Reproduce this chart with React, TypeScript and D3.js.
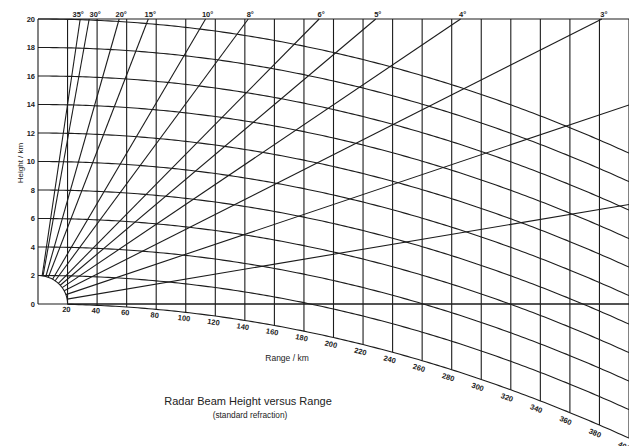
import React from 'react';
import * as d3 from 'd3';

// beam elevation angles (deg), the ones that reach the top get a label
const beamAngles = [35, 30, 20, 15, 10, 8, 6, 5, 4, 3, 2, 1, 0];
const labelledAngles = [35, 30, 20, 15, 10, 8, 6, 5, 4, 3];
const heightTicks = [0, 2, 4, 6, 8, 10, 12, 14, 16, 18, 20];
const rangeTicks = [20, 40, 60, 80, 100, 120, 140, 160, 180, 200, 220, 240, 260, 280, 300, 320, 340, 360, 380, 400];
const effRadius = 8500; // 4/3 earth radius, km
const blindRange = 20; // km, inner ellipse
const blindHeight = 2; // km

const W = 629;
const H = 446;
const ink = '#1c1c1c';

const x = d3.scaleLinear().domain([0, 400]).range([38, 629]);
const y = d3.scaleLinear().domain([0, 20]).range([304, 19]);

const drop = (d: number) => (d * d) / (2 * effRadius);

const line = d3
  .line<[number, number]>()
  .x((p) => x(p[0]))
  .y((p) => y(p[1]));

const App = () => {
  // curves of constant height above the (curved) ground
  const heightCurves = heightTicks.map((h) => {
    const start = h === 0 ? blindRange : 0;
    const pts = d3.range(start, 405.01, 2.5).map((d) => [d, h - drop(d)] as [number, number]);
    return { h, path: line(pts) };
  });

  // beams are straight lines y = d tan(theta), clipped by the inner ellipse
  const beams = beamAngles.map((a) => {
    const t = Math.tan((a * Math.PI) / 180);
    const d0 = 1 / Math.sqrt(1 / (blindRange * blindRange) + (t * t) / (blindHeight * blindHeight));
    const d1 = t > 0 ? Math.min(20 / t, 400) : 400;
    return { a, d0, d1, t };
  });

  const arcPts = d3.range(0, 90.01, 3).map((deg) => {
    const r = (deg * Math.PI) / 180;
    return [blindRange * Math.sin(r), blindHeight * Math.cos(r)] as [number, number];
  });

  const kx = (y(0) - y(1)) / (x(1) - x(0));

  return (
    <svg width={W} height={H} style={{ position: 'absolute', left: 0, top: 0, background: '#fff' }}>
      <g fill="none" stroke={ink} strokeWidth={1.1}>
        {/* frame */}
        <line x1={x(0)} x2={x(400)} y1={y(20)} y2={y(20)} />
        <line x1={x(0)} x2={x(0)} y1={y(0)} y2={y(20)} />
        <line x1={x(0)} x2={x(400)} y1={y(0)} y2={y(0)} />
        {rangeTicks.map((d) => (
          <line key={d} x1={x(d)} x2={x(d)} y1={y(20)} y2={y(-drop(d))} />
        ))}
        {heightCurves.map((c) => (
          <path key={c.h} d={c.path || ''} />
        ))}
        {beams.map((b) => (
          <line key={b.a} x1={x(b.d0)} y1={y(b.d0 * b.t)} x2={x(b.d1)} y2={y(b.d1 * b.t)} />
        ))}
        <path d={line(arcPts) || ''} />
      </g>

      <g fontFamily="'Liberation Sans', Arial, sans-serif" fontWeight="bold" fontSize={7.5} fill={ink}>
        {heightTicks.map((h) => (
          <text key={h} x={35} y={y(h)} textAnchor="end" dominantBaseline="central">
            {h}
          </text>
        ))}
        {labelledAngles.map((a) => {
          const d = 20 / Math.tan((a * Math.PI) / 180);
          const dx = a === 35 ? -2 : a === 30 ? 6 : 2;
          return (
            <text key={a} x={x(d) + dx} y={17} textAnchor="middle">
              {a}°
            </text>
          );
        })}
        {rangeTicks.map((d) => {
          const ang = Math.atan((d / effRadius) * kx);
          const off = 5 + d / 100;
          const px = x(d) - Math.sin(ang) * off - 1;
          const py = y(-drop(d)) + Math.cos(ang) * off;
          return (
            <text
              key={d}
              x={px}
              y={py}
              textAnchor="middle"
              dominantBaseline="central"
              transform={`rotate(${(ang * 180) / Math.PI} ${px} ${py})`}
            >
              {d}
            </text>
          );
        })}
      </g>

      <g fontFamily="'Liberation Sans', Arial, sans-serif" fill="#222">
        <text x={20} y={163} fontSize={8} textAnchor="middle" dominantBaseline="central" transform="rotate(-90 20 163)">
          Height / km
        </text>
        <text x={287} y={361} fontSize={8.5} textAnchor="middle">
          Range / km
        </text>
        <text x={248} y={405} fontSize={11} textAnchor="middle">
          Radar Beam Height versus Range
        </text>
        <text x={250} y={418} fontSize={8.3} textAnchor="middle">
          (standard refraction)
        </text>
      </g>
    </svg>
  );
};

export default App;
